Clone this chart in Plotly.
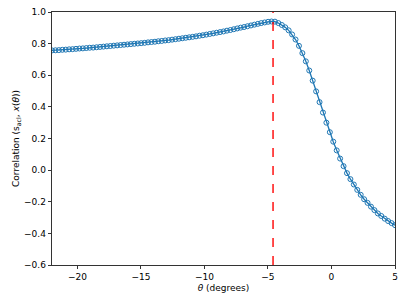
import numpy as np
import plotly.graph_objects as go

theta = np.round(np.linspace(-22, 5, 101), 2).tolist()
corr = [
    0.757, 0.758, 0.759, 0.761, 0.762, 0.764, 0.765, 0.767, 0.769, 0.770,
    0.772, 0.774, 0.775, 0.777, 0.779, 0.781, 0.783, 0.785, 0.787, 0.789,
    0.791, 0.793, 0.795, 0.797, 0.799, 0.801, 0.803, 0.805, 0.808, 0.810,
    0.812, 0.815, 0.817, 0.820, 0.822, 0.825, 0.828, 0.831, 0.834, 0.837,
    0.840, 0.843, 0.846, 0.850, 0.853, 0.857, 0.861, 0.865, 0.869, 0.873,
    0.877, 0.882, 0.886, 0.891, 0.896, 0.901, 0.905, 0.910, 0.915, 0.920,
    0.925, 0.930, 0.934, 0.938, 0.940, 0.939, 0.930, 0.918, 0.903, 0.884,
    0.858, 0.826, 0.786, 0.740, 0.688, 0.630, 0.566, 0.498, 0.430, 0.364,
    0.300, 0.240, 0.180, 0.125, 0.073, 0.025, -0.019, -0.057, -0.091, -0.125,
    -0.156, -0.184, -0.207, -0.231, -0.253, -0.274, -0.290, -0.307, -0.322, -0.335,
    -0.348,
]
peak_theta = -4.6

x_ticks = [-20, -15, -10, -5, 0, 5]
y_ticks = [-0.6, -0.4, -0.2, 0.0, 0.2, 0.4, 0.6, 0.8, 1.0]

fig = go.Figure()
fig.add_trace(go.Scatter(
    x=theta, y=corr, mode="lines+markers",
    line=dict(color="#1f77b4", width=1.3),
    marker=dict(symbol="circle-open", size=5, color="#1f77b4", line=dict(width=1)),
    showlegend=False,
))
fig.add_shape(type="line", x0=peak_theta, x1=peak_theta, y0=0, y1=1, yref="paper",
              line=dict(color="red", width=1.4, dash="dash"))

axis_common = dict(
    showgrid=False, zeroline=False, showline=True, linecolor="black", linewidth=0.8,
    mirror=True, ticks="outside", ticklen=3.5, tickwidth=0.8, tickcolor="black",
    tickfont=dict(family="DejaVu Sans", size=9, color="black"),
    automargin=False,
)
fig.update_xaxes(range=[-22, 5], tickvals=x_ticks,
                 ticktext=[("\u2212" + str(abs(v))) if v < 0 else str(v) for v in x_ticks],
                 title=dict(text="<i>θ</i> (degrees)", font=dict(family="DejaVu Sans", size=9, color="black"), standoff=3),
                 **axis_common)
fig.update_yaxes(range=[-0.6, 1.0], tickvals=y_ticks,
                 ticktext=[("\u2212" if v < 0 else "") + f"{abs(v):.1f}" for v in y_ticks],
                 title=dict(text="Correlation (s<sub>acl</sub>, <i>x</i>(<i>θ</i>))", font=dict(family="DejaVu Sans", size=9, color="black"), standoff=2),
                 **axis_common)
fig.update_layout(
    width=407, height=305, margin=dict(l=52, r=12, t=12, b=40, autoexpand=False),
    paper_bgcolor="white", plot_bgcolor="white", hovermode=False,
)
fig.write_html("out.html", config={"displayModeBar": False, "staticPlot": True},
               post_script="document.body.style.margin='0';")
